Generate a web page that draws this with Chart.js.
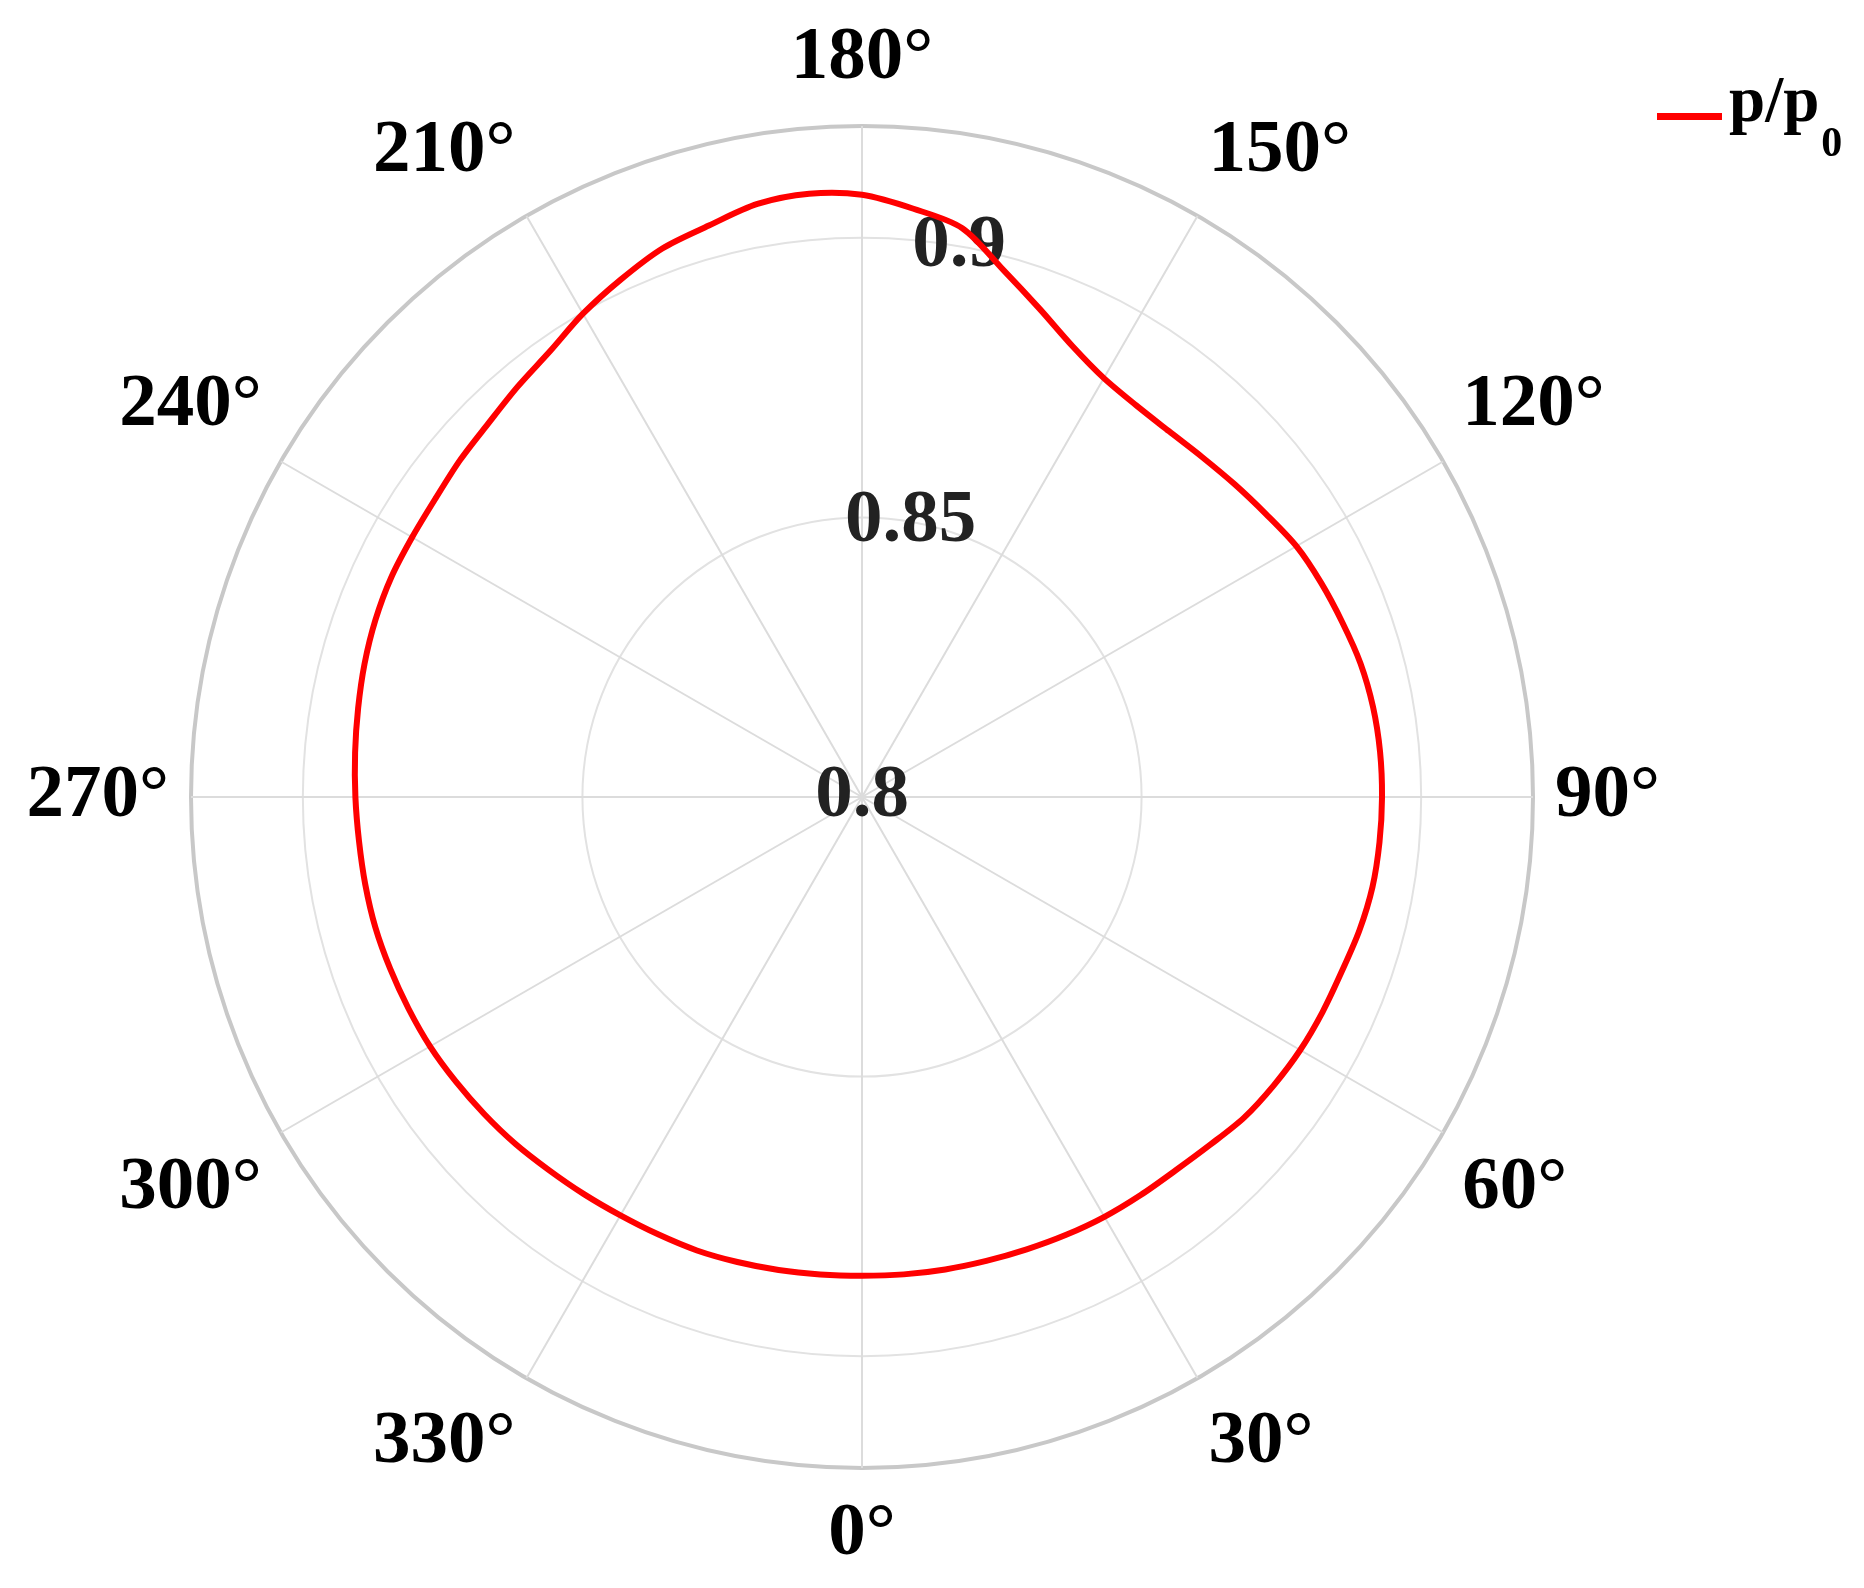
<!DOCTYPE html>
<html>
<head>
<meta charset="utf-8">
<script src="https://cdn.jsdelivr.net/npm/chart.js@4.4.1/dist/chart.umd.min.js"></script>
<style>
  html, body { margin: 0; padding: 0; background: #fff; }
  #wrap { position: relative; width: 1864px; height: 1588px; }
  #legend { position: absolute; left: 1657px; top: 60px; font: bold 65px "Liberation Serif", serif; color: #000; }
  #legend .swatch { position: absolute; left: 0; top: 53px; width: 65px; height: 7px; background: #ff0000; }
  #legend .txt { position: absolute; left: 72px; top: 7px; line-height: 65px; white-space: nowrap; }
  #legend .sub { position: relative; top: 35px; font-size: 42px; margin-left: 2px; }
</style>
</head>
<body>
<div id="wrap">
  <canvas id="polar"></canvas>
  <div id="legend"><div class="swatch"></div><div class="txt">p/p<span class="sub">0</span></div></div>
</div>
<script>
// angle in degrees (0 at bottom, counter-clockwise) and pressure ratio p/p0
const angleDeg = [0, 5, 10, 15, 20, 25, 30, 35, 40, 45, 50, 55, 60, 65, 70, 75, 80, 85,
  90, 95, 100, 105, 110, 115, 120, 125, 130, 135, 140, 145, 150, 155, 160, 165, 170, 175,
  180, 185, 190, 195, 200, 205, 210, 215, 220, 225, 230, 235, 240, 245, 250, 255, 260, 265,
  270, 275, 280, 285, 290, 295, 300, 305, 310, 315, 320, 325, 330, 335, 340, 345, 350, 355];
const pRatio = [0.8856, 0.8857, 0.8858, 0.8859, 0.8861, 0.8864, 0.8867, 0.8869, 0.8872, 0.8880,
  0.8892, 0.8899, 0.8905, 0.8909, 0.8913, 0.8921, 0.8927, 0.8929, 0.8930, 0.8930,
  0.8928, 0.8923, 0.8914, 0.8906, 0.8897, 0.8882, 0.8870, 0.8860, 0.8854, 0.8855,
  0.8865, 0.8890, 0.8929, 0.8976, 0.9033, 0.9056, 0.9077, 0.9083, 0.9077, 0.9058,
  0.9044, 0.9021, 0.8998, 0.8973, 0.8958, 0.8945, 0.8938, 0.8931, 0.8929, 0.8929,
  0.8926, 0.8921, 0.8915, 0.8910, 0.8906, 0.8903, 0.8902, 0.8901, 0.8898, 0.8895,
  0.8892, 0.8887, 0.8882, 0.8877, 0.8871, 0.8867, 0.8864, 0.8863, 0.8863, 0.8861,
  0.8859, 0.8857];
const angleTickLabels = ['0°', '30°', '60°', '90°', '120°', '150°', '180°', '210°', '240°', '270°', '300°', '330°'];
const rTickValues = [0.8, 0.85, 0.9];
const rTickLabels = ['0.8', '0.85', '0.9'];
const rMin = 0.8;
const rMax = 0.92;
const rLabelAngle = 170;

// radar runs clockwise from the top, so start at 180° and walk downwards
const order = angleDeg.map((_, j) => (180 - 5 * j + 360) % 360);
const labels = order;
const values = order.map((a) => pRatio[angleDeg.indexOf(a)]);

const labelFont = { family: '"Liberation Serif", serif', weight: 'bold', size: 75 };

const rLabels = {
  id: 'rLabels',
  beforeDatasetsDraw(chart) {
    const scale = chart.scales.r;
    const idx = chart.data.labels.indexOf(rLabelAngle);
    const ctx = chart.ctx;
    ctx.save();
    ctx.font = 'bold 75px "Liberation Serif", serif';
    ctx.fillStyle = '#222';
    ctx.textAlign = 'center';
    ctx.textBaseline = 'middle';
    rTickValues.forEach((v, i) => {
      const p = scale.getPointPositionForValue(idx, v);
      ctx.fillText(rTickLabels[i], p.x, p.y);
    });
    ctx.restore();
  }
};

const chart = new Chart(document.getElementById('polar').getContext('2d'), {
  type: 'radar',
  data: {
    labels: labels,
    datasets: [
      {
        label: 'p/p0',
        data: values,
        borderColor: '#ff0000',
        borderWidth: 6,
        pointRadius: 0,
        fill: false,
        tension: 0.3,
      },
    ],
  },
  options: {
    responsive: true,
    maintainAspectRatio: false,
    animation: false,
    events: [],
    layout: { padding: { left: 4, right: 180, top: 14, bottom: 7 } },
    plugins: { legend: { display: false }, tooltip: { enabled: false } },
    scales: {
      r: {
        min: rMin,
        max: rMax,
        startAngle: 0,
        afterBuildTicks: (scale) => {
          scale.ticks = rTickValues.concat([rMax]).map((v) => ({ value: v }));
        },
        ticks: { display: false },
        grid: {
          circular: true,
          color: (ctx) => (ctx.tick && ctx.tick.value >= rMax ? '#c8c8c8' : '#e2e2e2'),
          lineWidth: (ctx) => (ctx.tick && ctx.tick.value >= rMax ? 4 : 2),
        },
        angleLines: {
          color: '#dcdcdc',
          lineWidth: (ctx) => (ctx.label ? 2 : 0),
        },
        pointLabels: {
          padding: 22,
          color: '#000',
          font: labelFont,
          callback: (value) => (value % 30 === 0 ? angleTickLabels[value / 30] : ''),
        },
      },
    },
  },
  plugins: [rLabels],
});
</script>
</body>
</html>
